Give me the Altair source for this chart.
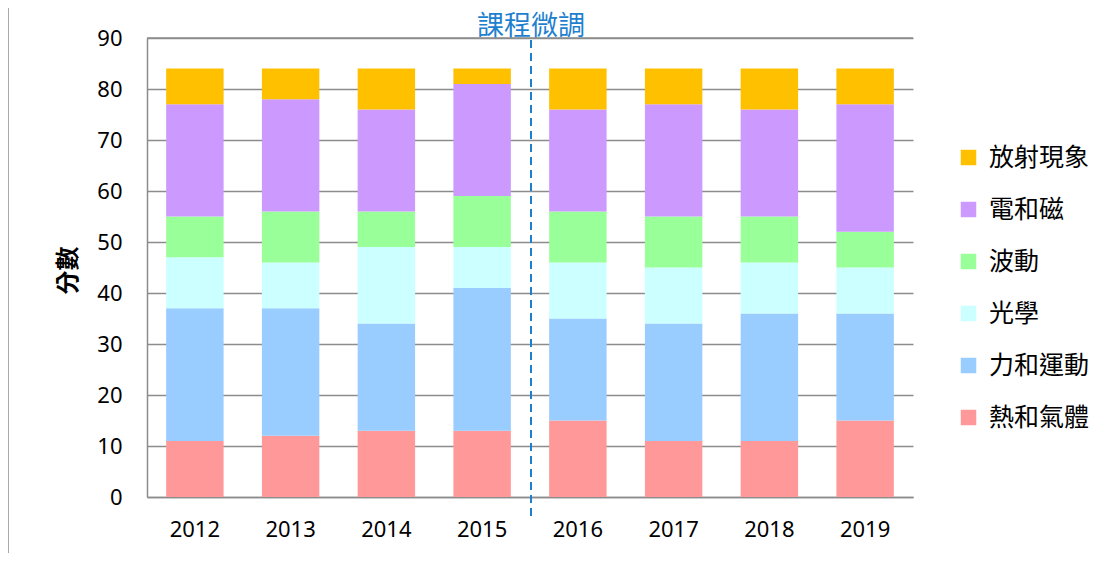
import altair as alt
import pandas as pd

years = ["2012", "2013", "2014", "2015", "2016", "2017", "2018", "2019"]
topics = ["熱和氣體", "力和運動", "光學", "波動", "電和磁", "放射現象"]
colors = ["#FF9999", "#99CCFF", "#CCFFFF", "#99FF99", "#CC99FF", "#FFC000"]

heat = [11, 12, 13, 13, 15, 11, 11, 15]
mech = [26, 25, 21, 28, 20, 23, 25, 21]
optics = [10, 9, 15, 8, 11, 11, 10, 9]
waves = [8, 10, 7, 10, 10, 10, 9, 7]
em = [22, 22, 20, 22, 20, 22, 21, 25]
radio = [7, 6, 8, 3, 8, 7, 8, 7]

series = [heat, mech, optics, waves, em, radio]
rows = []
for ti, (t, vals) in enumerate(zip(topics, series)):
    for y, v in zip(years, vals):
        rows.append({"年份": y, "主題": t, "分數": v, "order": ti})
df = pd.DataFrame(rows)

FONT = "Noto Sans, Noto Sans CJK TC"
legend_order = list(reversed(topics))
legend_colors = list(reversed(colors))

bars = alt.Chart(df).mark_bar().encode(
    x=alt.X("年份:N", sort=years,
            scale=alt.Scale(paddingInner=0.4, paddingOuter=0.2),
            axis=alt.Axis(title=None, labelAngle=0, labelFontSize=22, labelColor="#000",
                          labelPadding=22, ticks=False, domainColor="#8c8c8c",
                          domainWidth=1.5, grid=False, labelFont=FONT)),
    y=alt.Y("分數:Q", stack="zero",
            scale=alt.Scale(domain=[0, 90], nice=False),
            axis=alt.Axis(values=list(range(0, 91, 10)), labelFontSize=22, labelColor="#000",
                          labelPadding=25, ticks=False, domainColor="#8c8c8c", domainWidth=1.5,
                          gridColor="#8c8c8c", gridWidth=1.5, labelFont=FONT,
                          title="分數", titleFontSize=24, titleFontWeight="bold",
                          titleColor="#000", titleFont=FONT, titleAngle=270,
                          titleX=-79, titleY=232, titleAlign="center", titleBaseline="middle")),
    color=alt.Color("主題:N", scale=alt.Scale(domain=legend_order, range=legend_colors),
                    legend=alt.Legend(title=None, orient="none", legendX=809, legendY=107,
                                      labelFontSize=25, labelFont=FONT, labelColor="#000",
                                      symbolType="square", symbolSize=240, symbolStrokeWidth=0,
                                      symbolOpacity=1, rowPadding=26, labelOffset=8)),
    order=alt.Order("order:Q", sort="ascending"),
)

top_line = alt.Chart(pd.DataFrame({"v": [90]})).mark_rule(color="#8c8c8c", strokeWidth=1.5).encode(
    y=alt.Y("v:Q"), x=alt.value(0), x2=alt.value(766)
)

divider = alt.Chart(pd.DataFrame({"label": ["課程微調"]})).mark_rule(
    color="#1F7FCF", strokeWidth=2, strokeDash=[8, 5]
).encode(x=alt.value(384), y=alt.value(2), y2=alt.value(482))

divider_text = alt.Chart(pd.DataFrame({"label": ["課程微調"]})).mark_text(
    color="#1F7FCF", fontSize=27, font=FONT, baseline="alphabetic", align="center"
).encode(x=alt.value(384), y=alt.value(-3), text="label:N")

border = alt.Chart(pd.DataFrame({"a": [0]})).mark_rule(color="#8c8c8c", strokeWidth=1.5).encode(
    x=alt.value(-139), y=alt.value(-38), y2=alt.value(540)
)

chart = alt.layer(bars, top_line, divider, divider_text, border).properties(
    width=766, height=459,
    autosize=alt.AutoSizeParams(type="none"),
    padding={"left": 139, "top": 30, "right": 180, "bottom": 56},
).configure_view(stroke=None)

chart.save("out.html", embed_options={"renderer": "svg", "actions": False})
